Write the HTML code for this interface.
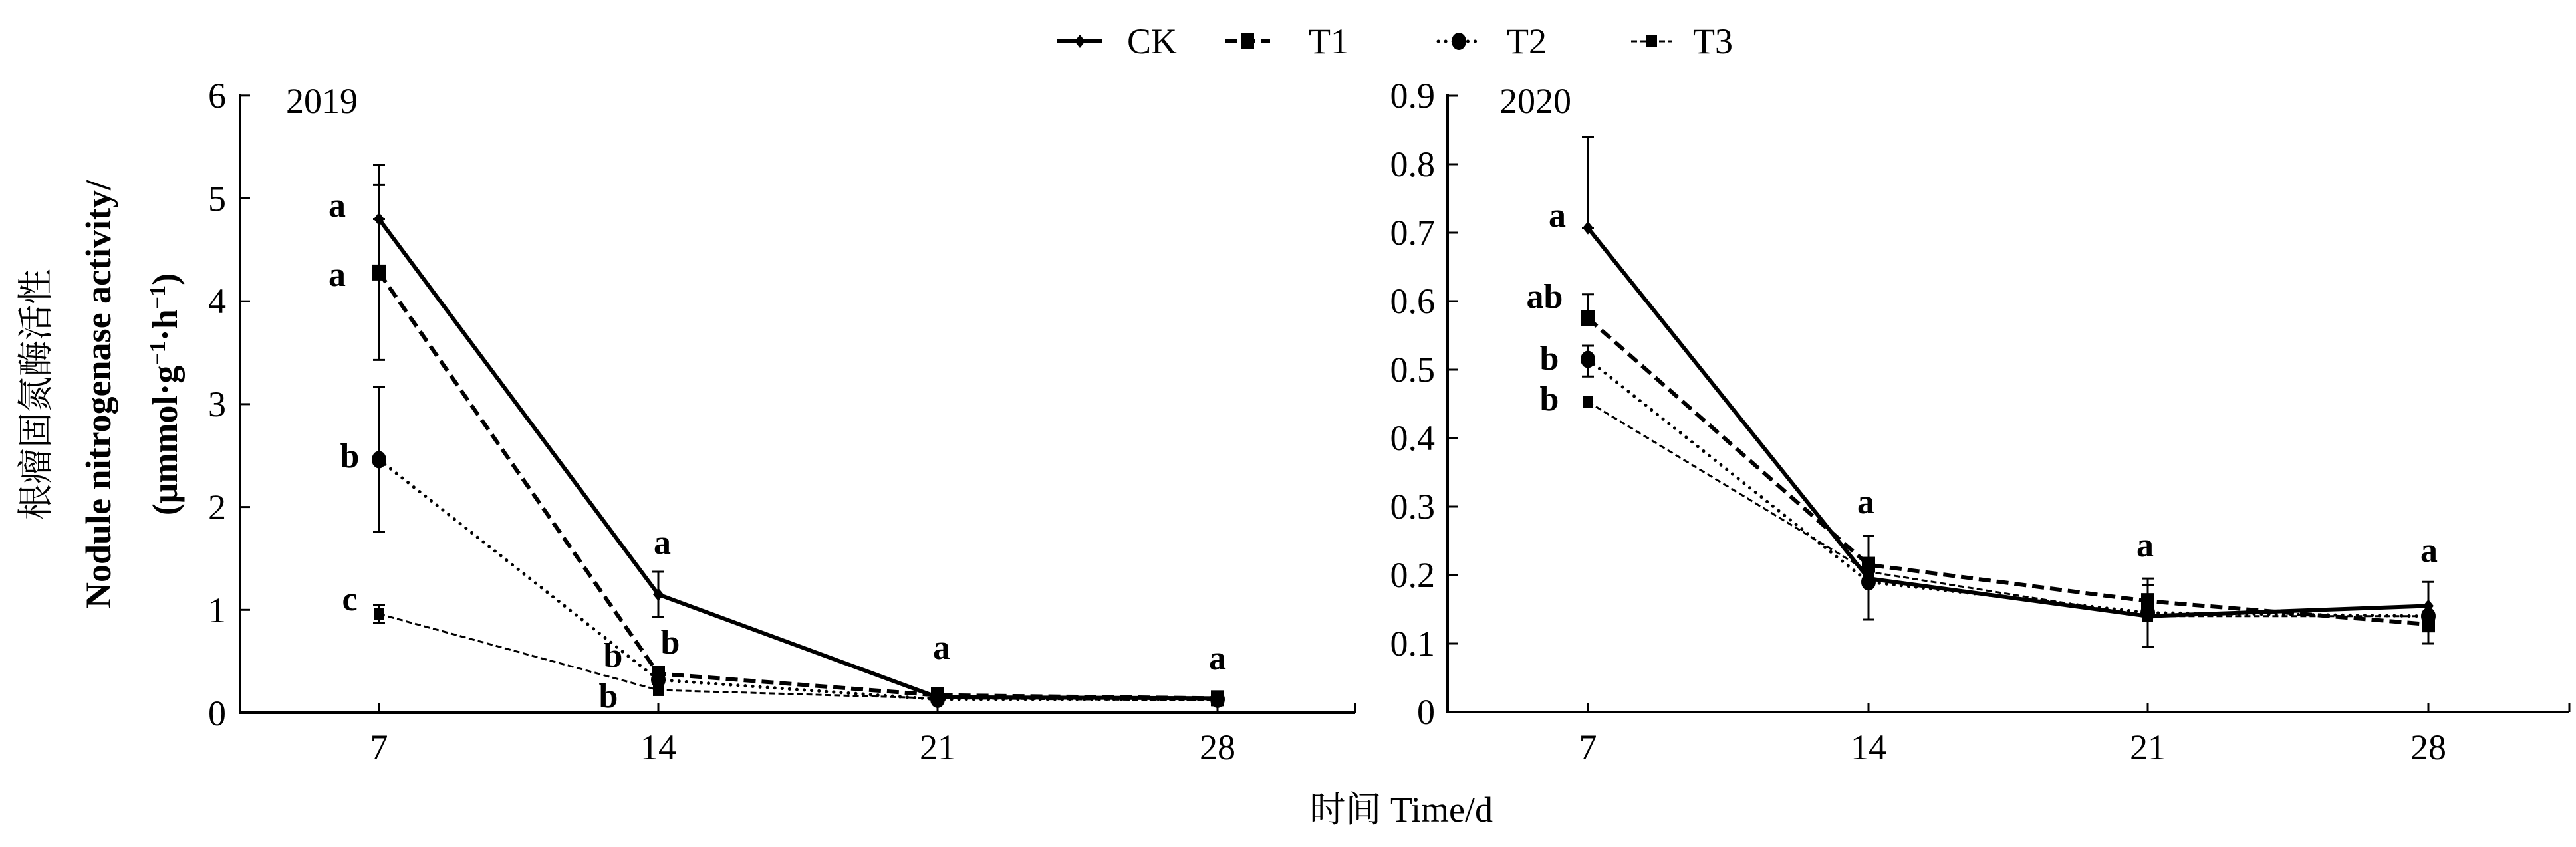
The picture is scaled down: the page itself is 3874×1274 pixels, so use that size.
<!DOCTYPE html>
<html><head><meta charset="utf-8"><style>
html,body{margin:0;padding:0;background:#fff}
svg{display:block}
text{font-family:"Liberation Serif","Noto Serif CJK SC",serif;fill:#000}
.t{font-size:54px}
.l{font-size:52px;font-weight:bold}
</style></head><body>
<svg id="s" width="3874" height="1274" viewBox="0 0 3874 1274" xmlns="http://www.w3.org/2000/svg">
<rect width="3874" height="1274" fill="#fff"/>
<g id="g"></g>
<!-- legend -->
<g class="t">
<text x="1695" y="80">CK</text>
<text x="1968" y="80">T1</text>
<text x="2266" y="80">T2</text>
<text x="2546" y="80">T3</text>
</g>
<!-- left ticks -->
<g class="t" text-anchor="end">
<text x="340" y="162">6</text><text x="340" y="317">5</text><text x="340" y="471">4</text>
<text x="340" y="626">3</text><text x="340" y="781">2</text><text x="340" y="936">1</text><text x="340" y="1091">0</text>
<text x="2158" y="162">0.9</text><text x="2158" y="265">0.8</text><text x="2158" y="368">0.7</text>
<text x="2158" y="471">0.6</text><text x="2158" y="574">0.5</text><text x="2158" y="677">0.4</text>
<text x="2158" y="780">0.3</text><text x="2158" y="883">0.2</text><text x="2158" y="986">0.1</text><text x="2158" y="1089">0</text>
</g>
<g class="t" text-anchor="middle">
<text x="570" y="1142">7</text><text x="990" y="1142">14</text><text x="1410" y="1142">21</text><text x="1831" y="1142">28</text>
<text x="2388" y="1142">7</text><text x="2810" y="1142">14</text><text x="3230" y="1142">21</text><text x="3652" y="1142">28</text>
</g>
<text class="t" x="430" y="170">2019</text>
<text class="t" x="2255" y="170">2020</text>
<text class="t" x="2245" y="1236" text-anchor="end">时间 Time/d</text>
<g class="t" text-anchor="middle">
<text transform="translate(72,593) rotate(-90)">根瘤固氮酶活性</text>
<text transform="translate(166,593) rotate(-90)" font-weight="bold">Nodule nitrogenase activity/</text>
<text transform="translate(266,593) rotate(-90)" font-weight="bold">(μmmol·g<tspan baseline-shift="super" font-size="34">−1</tspan>·h<tspan baseline-shift="super" font-size="34">−1</tspan>)</text>
</g>
<!-- letters -->
<g class="l" text-anchor="middle">
<text x="507" y="326">a</text><text x="507" y="430">a</text><text x="526" y="703">b</text><text x="526" y="918">c</text>
<text x="996" y="833">a</text><text x="1008" y="983">b</text><text x="922" y="1003">b</text><text x="915" y="1064">b</text>
<text x="1416" y="991">a</text><text x="1831" y="1007">a</text>
<text x="2342" y="341">a</text><text x="2323" y="463">ab</text><text x="2330" y="556">b</text><text x="2330" y="617">b</text>
<text x="2806" y="772">a</text><text x="3226" y="837">a</text><text x="3653" y="845">a</text>
</g>
</svg>
<script>
var g=document.getElementById('g'),NS='http://www.w3.org/2000/svg';
function el(n,a){var e=document.createElementNS(NS,n);for(var k in a)e.setAttribute(k,a[k]);g.appendChild(e);return e;}
function line(x1,y1,x2,y2,w){el('line',{x1:x1,y1:y1,x2:x2,y2:y2,stroke:'#000','stroke-width':w||4});}
// axes
line(361,142,361,1074);line(359,1072,2038,1072);
[0,1,2,3,4,5,6].forEach(function(v){var y=1072-v*154.7;line(361,y,376,y,3);});
[570,990,1410,1831,2038].forEach(function(x){line(x,1072,x,1058,3);});
line(2177,142,2177,1073);line(2175,1071,3864,1071);
for(var i=0;i<=9;i++){var y=1071-i*103;line(2177,y,2192,y,3);}
[2388,2810,3230,3652,3864].forEach(function(x){line(x,1071,x,1057,3);});
var styles={CK:{w:6,d:'none'},T1:{w:6,d:'18 9'},T2:{w:5,d:'0.1 11',cap:'round'},T3:{w:3,d:'9 5'}};
function series(xs,y0,sc,ys,st,mk,errs){
  var p=xs.map(function(x,i){return x+','+(y0-ys[i]*sc);}).join(' ');
  el('polyline',{points:p,fill:'none',stroke:'#000','stroke-width':st.w,'stroke-dasharray':st.d,'stroke-linecap':st.cap||'butt'});
  xs.forEach(function(x,i){var y=y0-ys[i]*sc;
    if(errs&&errs[i]){var a=y0-errs[i][0]*sc,b=y0-errs[i][1]*sc;line(x,a,x,b,3);line(x-9,a,x+9,a,3);line(x-9,b,x+9,b,3);}
    if(mk=='d')el('path',{d:'M'+x+' '+(y-10)+'l8 10l-8 10l-8-10z'});
    if(mk=='s')el('rect',{x:x-10,y:y-12,width:20,height:24});
    if(mk=='c')el('ellipse',{cx:x,cy:y,rx:11,ry:13});
    if(mk=='ss')el('rect',{x:x-8,y:y-9,width:16,height:18});
  });
}
var XL=[570,990,1410,1831],XR=[2388,2810,3230,3652];
series(XL,1072,154.7,[4.8,1.15,0.15,0.14],styles.CK,'d',[[4.8,5.33],[0.93,1.37],0,0]);
series(XL,1072,154.7,[4.28,0.38,0.17,0.14],styles.T1,'s',[[3.43,5.13],0,0,0]);
series(XL,1072,154.7,[2.46,0.32,0.13,0.13],styles.T2,'c',[[1.76,3.17],0,0,0]);
series(XL,1072,154.7,[0.96,0.22,0.14,0.12],styles.T3,'ss',[[0.87,1.05],0,0,0]);
series(XR,1071,1030,[0.707,0.195,0.14,0.155],styles.CK,'d',[[0.707,0.84],[0.135,0.257],[0.095,0.195],[0.1,0.19]]);
series(XR,1071,1030,[0.575,0.215,0.162,0.128],styles.T1,'s',[[0.575,0.61],0,[0.14,0.185],0]);
series(XR,1071,1030,[0.515,0.19,0.145,0.14],styles.T2,'c',[[0.49,0.535],0,0,0]);
series(XR,1071,1030,[0.453,0.205,0.14,0.14],styles.T3,'ss',0);
// legend lines
function leg(x1,x2,st,mk){el('line',{x1:x1,y1:62,x2:x2,y2:62,stroke:'#000','stroke-width':st.w,'stroke-dasharray':st.d,'stroke-linecap':st.cap||'butt'});
 var x=(x1+x2)/2,y=62;
 if(mk=='d')el('path',{d:'M'+x+' '+(y-10)+'l8 10l-8 10l-8-10z'});
 if(mk=='s')el('rect',{x:x-10,y:y-12,width:20,height:24});
 if(mk=='c')el('ellipse',{cx:x,cy:y,rx:11,ry:13});
 if(mk=='ss')el('rect',{x:x-8,y:y-9,width:16,height:18});}
leg(1590,1658,styles.CK,'d');leg(1842,1910,styles.T1,'s');leg(2163,2225,styles.T2,'c');leg(2453,2515,styles.T3,'ss');
</script>
</body></html>
